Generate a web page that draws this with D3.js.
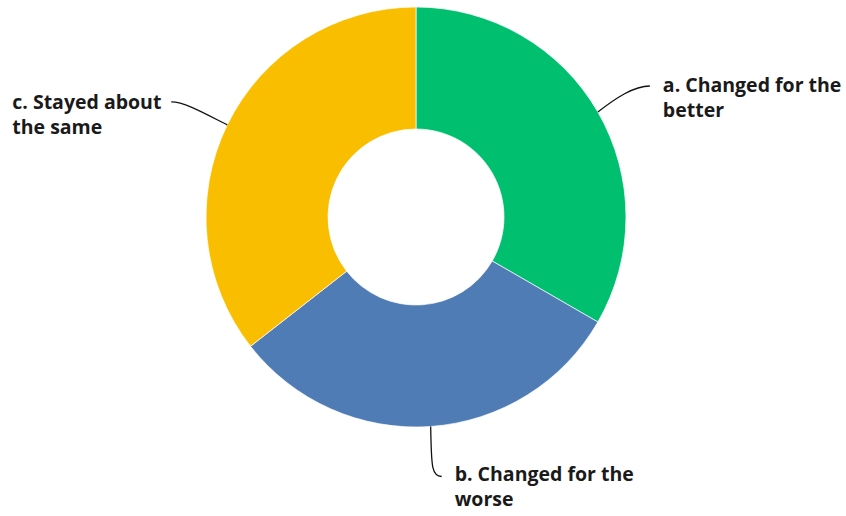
<!DOCTYPE html>
<html><head><meta charset="utf-8">
<script src="https://cdn.jsdelivr.net/npm/d3@7"></script>
<style>body{margin:0;background:#fff}svg{display:block}</style>
</head><body>
<svg id="chart" width="846" height="516"></svg>
<script>
const categories = ["a. Changed for the better", "b. Changed for the worse", "c. Stayed about the same"];
const values = [15, 14, 16];
const labelLines = [["a. Changed for the", "better"], ["b. Changed for the", "worse"], ["c. Stayed about", "the same"]];
const colors = ["#00BF6F", "#507CB6", "#F9BE00"];

const svg = d3.select("#chart");
const cx = 416, cy = 217, R = 210, r = 88;
const g = svg.append("g").attr("transform", `translate(${cx},${cy})`);
const pie = d3.pie().sort(null).value(d => d)(values);
const arc = d3.arc().innerRadius(r).outerRadius(R);
g.selectAll("path.slice").data(pie).join("path")
  .attr("class", "slice").attr("d", arc)
  .attr("fill", (d, i) => colors[i]).attr("stroke", "#fff").attr("stroke-width", 0.7);

const leader = [
  {dx: 52, dy: -26, c1: [18, -14], c2: [36, -26], tx: 65, ty: -20},
  {dx: 11, dy: 50, c1: [1, 36], c2: [0, 50], tx: 24, ty: 55},
  {dx: -56, dy: -23, c1: [-20, -10], c2: [-42, -23], tx: -215, ty: -16}
];
pie.forEach((d, i) => {
  const a = (d.startAngle + d.endAngle) / 2;
  const sx = R * Math.sin(a), sy = -R * Math.cos(a);
  const L = leader[i];
  const p = d3.path();
  p.moveTo(sx, sy);
  p.bezierCurveTo(sx + L.c1[0], sy + L.c1[1], sx + L.c2[0], sy + L.c2[1], sx + L.dx, sy + L.dy);
  g.append("path").attr("d", p.toString()).attr("fill", "none").attr("stroke", "#111").attr("stroke-width", 1.3);
  const t = g.append("text").attr("x", sx + L.tx).attr("y", sy + L.ty)
    .attr("font-family", "'Open Sans', sans-serif").attr("font-weight", "bold")
    .attr("font-size", 19.5).attr("fill", "#1a1a1a");
  labelLines[i].forEach((ln, j) => t.append("tspan").attr("x", sx + L.tx).attr("dy", j === 0 ? 0 : 25).text(ln));
});
</script>
</body></html>
